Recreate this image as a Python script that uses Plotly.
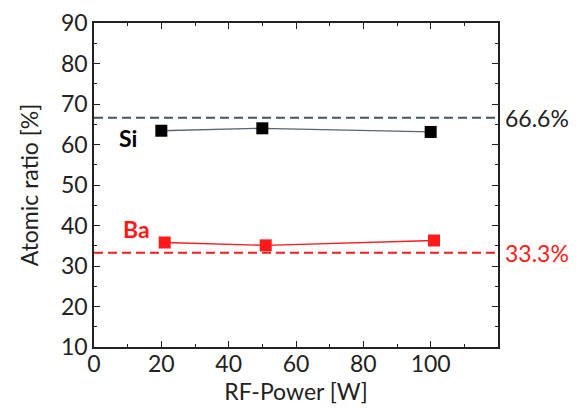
import plotly.graph_objects as go

power_si = [20, 50, 100]
si_ratio = [63.4, 64.0, 63.1]
power_ba = [21, 51, 101]
ba_ratio = [35.8, 35.1, 36.3]
si_ref = 66.6
ba_ref = 33.3
x_ticks = [0, 20, 40, 60, 80, 100]
y_ticks = [10, 20, 30, 40, 50, 60, 70, 80, 90]

FONT = "Lato"
RED = "#ff1a1a"
SLATE = "#44546a"
INK = "#222222"

fig = go.Figure()
fig.add_trace(go.Scatter(x=power_si, y=si_ratio, mode="lines+markers",
                         line=dict(color="#5a6472", width=1.3),
                         marker=dict(symbol="square", size=12, color="black"),
                         showlegend=False, cliponaxis=False))
fig.add_trace(go.Scatter(x=power_ba, y=ba_ratio, mode="lines+markers",
                         line=dict(color=RED, width=1.3),
                         marker=dict(symbol="square", size=12, color=RED),
                         showlegend=False, cliponaxis=False))

fig.add_shape(type="line", xref="paper", x0=0, x1=1, yref="y", y0=si_ref, y1=si_ref,
              line=dict(color=SLATE, width=2, dash="9px,5px"))
fig.add_shape(type="line", xref="paper", x0=0, x1=1, yref="y", y0=ba_ref, y1=ba_ref,
              line=dict(color=RED, width=2, dash="9px,5px"))

fig.add_annotation(x=1.0, xref="paper", y=si_ref, yref="y", text="66.6%", showarrow=False,
                   xanchor="left", xshift=5, font=dict(family=FONT, size=23, color=INK))
fig.add_annotation(x=1.0, xref="paper", y=ba_ref, yref="y", text="33.3%", showarrow=False,
                   xanchor="left", xshift=5, font=dict(family=FONT, size=23, color=RED))
fig.add_annotation(x=10.2, y=61.5, text="<b>Si</b>", showarrow=False,
                   font=dict(family=FONT, size=23, color="black"))
fig.add_annotation(x=12.5, y=39.2, text="<b>Ba</b>", showarrow=False,
                   font=dict(family=FONT, size=23, color=RED))

axis_common = dict(showline=True, linecolor=INK, linewidth=1.5, mirror="ticks",
                   ticks="inside", ticklen=6, tickwidth=1.3, tickcolor=INK,
                   showgrid=False, zeroline=False, automargin=False,
                   tickfont=dict(family=FONT, size=23, color=INK))

fig.update_xaxes(range=[0, 120], tickvals=x_ticks, ticklabelstandoff=-4,
                 minor=dict(dtick=10, ticks="inside", ticklen=3, tickcolor=INK),
                 title=dict(text="RF-Power [W]", font=dict(family=FONT, size=23, color=INK),
                            standoff=0),
                 **axis_common)
fig.update_yaxes(range=[10, 90], tickvals=y_ticks,
                 minor=dict(dtick=5, ticks="inside", ticklen=3, tickcolor=INK),
                 title=dict(text="Atomic ratio [%]", font=dict(family=FONT, size=23, color=INK),
                            standoff=16),
                 **axis_common)

fig.update_layout(width=582, height=408, plot_bgcolor="white", paper_bgcolor="white",
                  margin=dict(l=94, r=84, t=23, b=61))
fig.write_html("out.html", config={"displayModeBar": False},
               post_script="document.body.style.margin='0';")
